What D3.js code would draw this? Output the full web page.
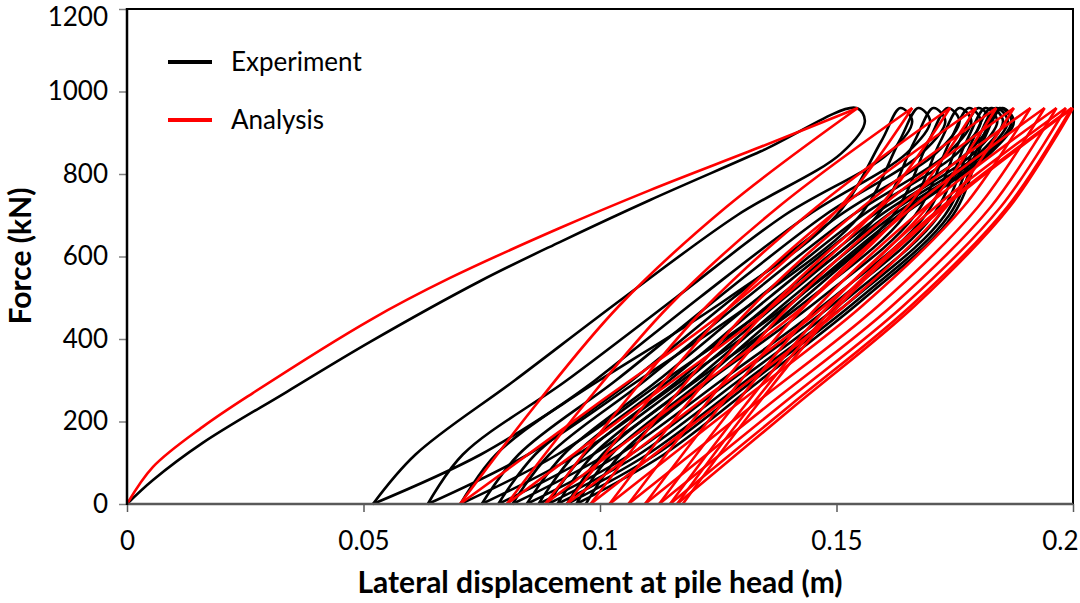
<!DOCTYPE html>
<html lang="en">
<head>
  <meta charset="UTF-8">
  <title>Force - displacement</title>
  <script src="https://d3js.org/d3.v7.min.js"></script>
  <style>
    body { margin: 0; background: #fff; }
    text { font-family: Lato, "Open Sans", sans-serif; fill: #000; }
    .tick text { font-size: 26px; }
    .axis-title { font-size: 30px; font-weight: bold; }
    .legend text { font-size: 26px; }
  </style>
</head>
<body>
  <svg width="1080" height="603"></svg>
  <script>
    // axis ticks
    const xTicks = [0, 0.05, 0.1, 0.15, 0.2];
    const yTicks = [0, 200, 400, 600, 800, 1000, 1200];

    const peakForce = 960;
    const tipForce = 928;

    // Experiment (black): first loading
    const expInitialX = [0, 0.0055, 0.016, 0.0338, 0.0514, 0.0746, 0.0915, 0.1106, 0.134, 0.1542];
    const expInitialF = [0, 58, 148, 272, 393, 540, 635, 737, 855, 960];
    // top of each loop, rounded tip, residual displacement after unloading
    const expTopX = [0.1542, 0.1635, 0.1673, 0.1705, 0.1735, 0.176, 0.178, 0.18, 0.1815, 0.1827, 0.1837, 0.1845, 0.185];
    const expPeakX = [0.156, 0.166, 0.1698, 0.173, 0.176, 0.1785, 0.1805, 0.1825, 0.184, 0.1852, 0.1862, 0.187, 0.1875];
    const expResidualX = [0.052, 0.0636, 0.0705, 0.075, 0.0785, 0.0815, 0.0845, 0.087, 0.089, 0.091, 0.093, 0.095, 0.097];
    // unloading branches, x at these forces
    const expUnloadF = [850, 700, 500, 300, 120];
    const expUnloadX = [
      [0.151, 0.129, 0.105, 0.082, 0.061],
      [0.161, 0.139, 0.116, 0.093, 0.071],
      [0.1648, 0.144, 0.121, 0.099, 0.078],
      [0.168, 0.1475, 0.125, 0.1034, 0.0828],
      [0.171, 0.1507, 0.1282, 0.1068, 0.0863],
      [0.1735, 0.1533, 0.131, 0.1096, 0.0893],
      [0.1755, 0.1555, 0.1335, 0.1123, 0.0923],
      [0.1775, 0.1577, 0.1357, 0.1147, 0.0947],
      [0.179, 0.1593, 0.1375, 0.1166, 0.0967],
      [0.1802, 0.1607, 0.139, 0.1183, 0.0986],
      [0.1812, 0.162, 0.1405, 0.12, 0.1005],
      [0.182, 0.1631, 0.1419, 0.1217, 0.1024],
      [0.1825, 0.164, 0.1432, 0.1232, 0.1043]
    ];
    // reloading branches, x at these forces
    const expLoadF = [120, 300, 500, 700, 880];
    const expLoadX = [
      [0.0748, 0.0999, 0.1272, 0.150, 0.1595],
      [0.0848, 0.1082, 0.1337, 0.155, 0.1633],
      [0.091, 0.1136, 0.1382, 0.1587, 0.1665],
      [0.0952, 0.1174, 0.1417, 0.1619, 0.1695],
      [0.0985, 0.1205, 0.1445, 0.1645, 0.172],
      [0.1013, 0.1231, 0.1468, 0.1666, 0.174],
      [0.1041, 0.1257, 0.1492, 0.1688, 0.176],
      [0.1064, 0.1277, 0.151, 0.1704, 0.1775],
      [0.1082, 0.1294, 0.1525, 0.1717, 0.1787],
      [0.110, 0.131, 0.1538, 0.1729, 0.1797],
      [0.1118, 0.1325, 0.155, 0.1738, 0.1805],
      [0.1135, 0.1339, 0.156, 0.1746, 0.181]
    ];

    // Analysis (red)
    const anaInitialX = [0, 0.0055, 0.016, 0.0266, 0.0514, 0.0683, 0.0915, 0.1106, 0.134, 0.1545];
    const anaInitialF = [0, 90, 187, 269, 446, 548, 669, 761, 866, 960];
    const anaPeakX = [0.1545, 0.166, 0.174, 0.1795, 0.1838, 0.1875, 0.191, 0.194, 0.1965, 0.1985, 0.1997, 0.2];
    const anaResidualX = [0.0704, 0.0803, 0.0884, 0.093, 0.098, 0.102, 0.106, 0.1095, 0.1125, 0.1148, 0.1163, 0.1175];
    const anaUnloadF = [720, 480, 240];
    const anaUnloadX = [
      [0.1267, 0.104, 0.0864],
      [0.1377, 0.1146, 0.0966],
      [0.1458, 0.1226, 0.1047],
      [0.151, 0.1276, 0.1094],
      [0.1555, 0.1323, 0.1143],
      [0.1593, 0.1362, 0.1182],
      [0.163, 0.140, 0.1222],
      [0.1661, 0.1433, 0.1256],
      [0.1688, 0.1461, 0.1285],
      [0.1709, 0.1483, 0.1307],
      [0.1722, 0.1497, 0.1321],
      [0.1728, 0.1505, 0.1332]
    ];
    const anaLoadF = [240, 480, 720];
    const anaLoadX = [
      [0.0991, 0.1278, 0.1507],
      [0.1084, 0.1365, 0.159],
      [0.1157, 0.1431, 0.1649],
      [0.1202, 0.1475, 0.1693],
      [0.1249, 0.1517, 0.1732],
      [0.1287, 0.1554, 0.1768],
      [0.1324, 0.1588, 0.1799],
      [0.1356, 0.1617, 0.1826],
      [0.1383, 0.1641, 0.1847],
      [0.1403, 0.1657, 0.1861],
      [0.1414, 0.1665, 0.1866]
    ];

    const svg = d3.select('svg');
    const plotLeft = 127, plotRight = 1073, plotTop = 9, plotBottom = 504;

    const x = d3.scaleLinear().domain([0, 0.2]).range([plotLeft, plotRight]);
    const y = d3.scaleLinear().domain([0, 1200]).range([plotBottom, plotTop]);

    const line = d3.line()
      .x(d => x(d[0]))
      .y(d => y(d[1]))
      .curve(d3.curveCatmullRom.alpha(0.5));

    // build experiment loops: (re)loading + rounded tip + unloading
    const expPaths = [];
    expTopX.forEach((tx, i) => {
      let pts;
      if (i === 0) {
        pts = expInitialX.slice(0, -1).map((v, j) => [v, expInitialF[j]]);
      } else {
        pts = [[expResidualX[i - 1], 0]].concat(expLoadX[i - 1].map((v, j) => [v, expLoadF[j]]));
      }
      pts.push([tx, peakForce]);
      pts.push([expPeakX[i], tipForce]);
      expUnloadX[i].forEach((v, j) => pts.push([v, expUnloadF[j]]));
      pts.push([expResidualX[i], 0]);
      expPaths.push(pts);
    });

    // analysis branches with sharp tips
    const anaPaths = [];
    anaPaths.push(anaInitialX.map((v, j) => [v, anaInitialF[j]]));
    anaPeakX.forEach((px, i) => {
      if (i > 0) {
        const load = [[anaResidualX[i - 1], 0]]
          .concat(anaLoadX[i - 1].map((v, j) => [v, anaLoadF[j]]));
        load.push([px, peakForce]);
        anaPaths.push(load);
      }
      const unload = [[px, peakForce]]
        .concat(anaUnloadX[i].map((v, j) => [v, anaUnloadF[j]]));
      unload.push([anaResidualX[i], 0]);
      anaPaths.push(unload);
    });

    // frame
    svg.append('rect')
      .attr('x', plotLeft).attr('y', plotTop)
      .attr('width', plotRight - plotLeft).attr('height', plotBottom - plotTop)
      .attr('fill', 'none').attr('stroke', '#000').attr('stroke-width', 2);

    const curves = svg.append('g');
    curves.selectAll('.exp')
      .data(expPaths)
      .enter()
      .append('path')
      .attr('class', 'exp')
      .attr('d', line)
      .attr('fill', 'none')
      .attr('stroke', '#000')
      .attr('stroke-width', 2.6);

    curves.selectAll('.ana')
      .data(anaPaths)
      .enter()
      .append('path')
      .attr('class', 'ana')
      .attr('d', line)
      .attr('fill', 'none')
      .attr('stroke', '#ff0000')
      .attr('stroke-width', 2.6)
      .attr('stroke-linejoin', 'round');

    // axes
    const yAxis = svg.append('g')
      .attr('transform', `translate(${plotLeft},0)`)
      .call(d3.axisLeft(y).tickValues(yTicks).tickFormat(d => String(d))
        .tickSize(8).tickSizeOuter(0).tickPadding(11));
    yAxis.select('.domain').remove();
    yAxis.selectAll('.tick line').attr('stroke', '#808080').attr('stroke-width', 1.5);
    // top label sits a little lower so it is not cut off
    yAxis.selectAll('.tick text').filter(d => d === 1200).attr('y', 8);

    const xAxis = svg.append('g')
      .attr('transform', `translate(0,${plotBottom})`)
      .call(d3.axisBottom(x).tickValues(xTicks).tickFormat(d => String(d))
        .tickSize(8).tickSizeOuter(0).tickPadding(20));
    xAxis.select('.domain').remove();
    xAxis.selectAll('.tick line').attr('stroke', '#595959').attr('stroke-width', 1.5);
    xAxis.selectAll('.tick text').filter(d => d === 0.2)
      .attr('text-anchor', 'end').attr('x', 5);

    svg.selectAll('.tick text').attr('font-family', null).attr('font-size', null);

    svg.append('line')
      .attr('x1', plotLeft).attr('x2', plotRight)
      .attr('y1', plotBottom).attr('y2', plotBottom)
      .attr('stroke', '#595959').attr('stroke-width', 2.5);
    svg.append('line')
      .attr('x1', plotLeft).attr('x2', plotLeft)
      .attr('y1', plotTop - 1).attr('y2', plotBottom + 1)
      .attr('stroke', '#000').attr('stroke-width', 2.5);

    // titles
    svg.append('text')
      .attr('class', 'axis-title')
      .attr('x', 600)
      .attr('y', 593)
      .attr('text-anchor', 'middle')
      .text('Lateral displacement at pile head (m)');

    svg.append('text')
      .attr('class', 'axis-title')
      .attr('transform', `translate(31,256) rotate(-90)`)
      .attr('text-anchor', 'middle')
      .text('Force (kN)');

    // legend
    const legendItems = [
      { name: 'Experiment', color: '#000', y: 62 },
      { name: 'Analysis', color: '#ff0000', y: 120 }
    ];
    const legend = svg.append('g').attr('class', 'legend');
    legend.selectAll('line')
      .data(legendItems)
      .enter()
      .append('line')
      .attr('x1', 168).attr('x2', 212)
      .attr('y1', d => d.y).attr('y2', d => d.y)
      .attr('stroke', d => d.color)
      .attr('stroke-width', 4);
    legend.selectAll('text')
      .data(legendItems)
      .enter()
      .append('text')
      .attr('x', 231)
      .attr('y', d => d.y + 9)
      .text(d => d.name);
  </script>
</body>
</html>
